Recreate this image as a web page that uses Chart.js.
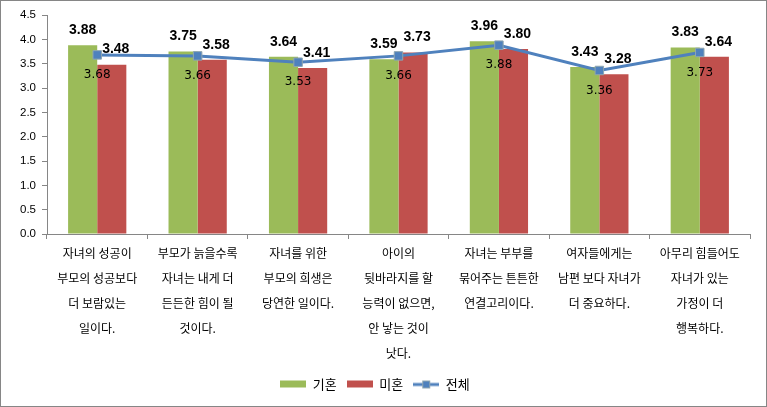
<!DOCTYPE html>
<html>
<head>
<meta charset="utf-8">
<script src="https://cdn.jsdelivr.net/npm/chart.js@4/dist/chart.umd.min.js"></script>
<style>
  html, body { margin: 0; padding: 0; background: #fff; }
  #wrap { width: 767px; height: 407px; }
</style>
</head>
<body>
<div id="wrap"><canvas id="chart" width="767" height="407"></canvas></div>
<script>
// Data
const categories = [
    ['자녀의 성공이', '부모의 성공보다', '더 보람있는', '일이다.'],
    ['부모가 늙을수록', '자녀는 내게 더', '든든한 힘이 될', '것이다.'],
    ['자녀를 위한', '부모의 희생은', '당연한 일이다.'],
    ['아이의', '뒷바라지를 할', '능력이 없으면,', '안 낳는 것이', '낫다.'],
    ['자녀는 부부를', '묶어주는 튼튼한', '연결고리이다.'],
    ['여자들에게는', '남편 보다 자녀가', '더 중요하다.'],
    ['아무리 힘들어도', '자녀가 있는', '가정이 더', '행복하다.']
];
const seriesNames = ['기혼', '미혼', '전체'];
const married = [3.88, 3.75, 3.64, 3.59, 3.96, 3.43, 3.83];
const single = [3.48, 3.58, 3.41, 3.73, 3.80, 3.28, 3.64];
const total = [3.68, 3.66, 3.53, 3.66, 3.88, 3.36, 3.73];
const yTicks = [0.0, 0.5, 1.0, 1.5, 2.0, 2.5, 3.0, 3.5, 4.0, 4.5];

const GREEN = '#9BBB59';
const RED = '#C0504D';
const BLUE = '#4F81BD';
const AXIS = '#868686';
const KO = '"Noto Sans CJK KR", "Noto Sans", sans-serif';

// legend icons
function makeIcon(kind, color) {
    const c = document.createElement('canvas');
    c.width = 26; c.height = 10;
    const g = c.getContext('2d');
    if (kind === 'box') {
        g.fillStyle = color;
        g.fillRect(0, 1, 26, 7);
    } else {
        g.strokeStyle = color;
        g.lineWidth = 3;
        g.beginPath(); g.moveTo(0, 5); g.lineTo(26, 5); g.stroke();
        g.fillStyle = color;
        g.fillRect(9, 1, 8, 8);
        g.strokeStyle = '#8fa6b0';
        g.lineWidth = 1;
        g.strokeRect(9.5, 1.5, 7, 7);
    }
    return c;
}
const icons = [makeIcon('box', GREEN), makeIcon('box', RED), makeIcon('line', BLUE)];

// value labels
const valueLabels = {
    id: 'valueLabels',
    afterDatasetsDraw(chart) {
        const ctx = chart.ctx;
        ctx.save();
        ctx.fillStyle = '#000';
        ctx.textAlign = 'center';
        ctx.textBaseline = 'middle';
        [0, 1].forEach(di => {
            const meta = chart.getDatasetMeta(di);
            ctx.font = 'bold 14px "Liberation Sans", Arial, sans-serif';
            meta.data.forEach((bar, i) => {
                const v = chart.data.datasets[di].data[i];
                const dx = di === 1 ? 4 : 0;
                ctx.fillText(v.toFixed(2), bar.x + dx, bar.y - 15);
            });
        });
        const lm = chart.getDatasetMeta(2);
        ctx.font = '12px "DejaVu Sans", sans-serif';
        lm.data.forEach((pt, i) => {
            ctx.fillText(total[i].toFixed(2), pt.x, pt.y + 20);
        });
        ctx.restore();
    }
};

// outer border
const frame = {
    id: 'frame',
    afterDraw(chart) {
        const ctx = chart.ctx;
        ctx.save();
        ctx.strokeStyle = AXIS;
        ctx.lineWidth = 1;
        ctx.strokeRect(0.5, 0.5, chart.width - 1, chart.height - 1);
        ctx.restore();
    }
};

new Chart(document.getElementById('chart'), {
    type: 'bar',
    data: {
        labels: categories,
        datasets: [
            {
                label: seriesNames[0],
                data: married,
                backgroundColor: GREEN,
                categoryPercentage: 0.58,
                barPercentage: 1.0,
                order: 1
            },
            {
                label: seriesNames[1],
                data: single,
                backgroundColor: RED,
                categoryPercentage: 0.58,
                barPercentage: 1.0,
                order: 1
            },
            {
                type: 'line',
                label: seriesNames[2],
                data: total,
                borderColor: BLUE,
                backgroundColor: BLUE,
                borderWidth: 3,
                pointStyle: 'rect',
                pointRadius: 6,
                pointBorderColor: '#8fa6b0',
                pointBorderWidth: 1,
                pointBackgroundColor: BLUE,
                tension: 0,
                order: 0
            }
        ]
    },
    options: {
        responsive: false,
        animation: false,
        layout: { padding: { top: 15, right: 17, left: 0, bottom: 6 } },
        plugins: {
            tooltip: { enabled: false },
            legend: {
                position: 'bottom',
                labels: {
                    usePointStyle: true,
                    pointStyleWidth: 26,
                    color: '#000',
                    font: { family: KO, size: 13 },
                    padding: 10,
                    sort: (a, b) => a.datasetIndex - b.datasetIndex,
                    generateLabels(chart) {
                        return seriesNames.map((name, i) => ({
                            text: name,
                            datasetIndex: i,
                            pointStyle: icons[i],
                            fillStyle: 'transparent',
                            strokeStyle: 'transparent',
                            lineWidth: 0,
                            fontColor: '#000'
                        }));
                    }
                }
            }
        },
        scales: {
            x: {
                offset: true,
                grid: {
                    offset: true,
                    drawOnChartArea: false,
                    drawTicks: true,
                    tickLength: 5,
                    color: AXIS
                },
                border: { color: AXIS, width: 1 },
                ticks: {
                    color: '#000',
                    maxRotation: 0,
                    autoSkip: false,
                    padding: 2,
                    font: { family: KO, size: 12, lineHeight: 2.08 }
                },
                afterFit(scale) { scale.height = 134; }
            },
            y: {
                min: 0,
                max: 4.5,
                afterBuildTicks(scale) {
                    scale.ticks = yTicks.map(v => ({ value: v }));
                },
                grid: {
                    drawOnChartArea: false,
                    drawTicks: true,
                    tickLength: 5,
                    color: AXIS
                },
                border: { color: AXIS, width: 1 },
                ticks: {
                    color: '#000',
                    padding: 6,
                    font: { family: '"Liberation Sans", Arial, sans-serif', size: 11.5 },
                    callback: v => Number(v).toFixed(1)
                },
                afterFit(scale) { scale.width = 47; }
            }
        }
    },
    plugins: [valueLabels, frame]
});
</script>
</body>
</html>
